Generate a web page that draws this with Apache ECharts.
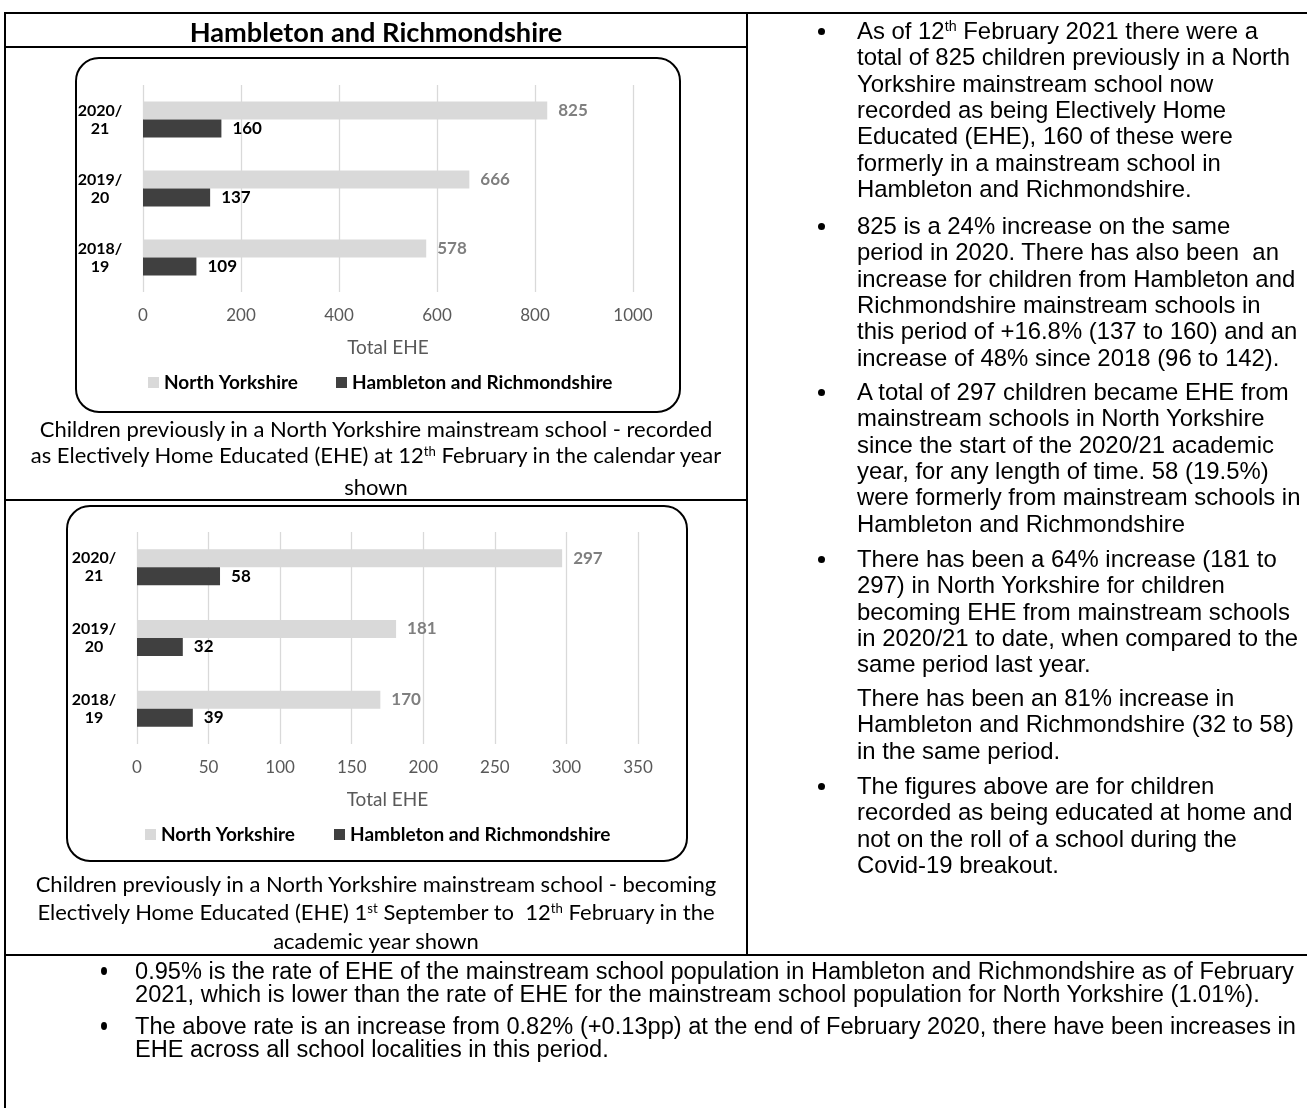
<!DOCTYPE html>
<html>
<head>
<meta charset="utf-8">
<script src="https://cdn.jsdelivr.net/npm/echarts@6/dist/echarts.min.js"></script>
<style>
  html, body { margin:0; padding:0; background:#fff; }
  #page { position:relative; width:1307px; height:1108px; overflow:hidden; background:#fff; }
  #chart { position:absolute; left:0; top:0; width:1307px; height:1108px; }
  .ln { position:absolute; background:#000; }
  .box { position:absolute; border:2.5px solid #000; border-radius:24px; box-sizing:border-box; }
  .t { position:absolute; white-space:nowrap; color:#000; }
  .cal { font-family: Lato, "Open Sans", sans-serif; }
  .ar { font-family: "Liberation Sans", Arial, sans-serif; font-size:23.9px; }
  .nar { font-family: "Liberation Sans", Arial, sans-serif; font-size:23px; transform-origin:0 50%; }
  .dot { position:absolute; width:7px; height:7px; border-radius:50%; background:#000; }
  sup { font-size:0.6em; line-height:0; vertical-align:0.55em; }
</style>
</head>
<body>
<div id="page">
  <div id="chart"></div>
</div>
<script>
// ---- data ----
const categories = ['2018/19', '2019/20', '2020/21'];
const seriesNames = ['North Yorkshire', 'Hambleton and Richmondshire'];
const nyRecorded = [578, 666, 825];
const hrRecorded = [109, 137, 160];
const nyBecoming = [170, 181, 297];
const hrBecoming = [39, 32, 58];
const axisName = 'Total EHE';
const title = 'Hambleton and Richmondshire';
const caption1 = ['Children previously in a North Yorkshire mainstream school - recorded',
  'as Electively Home Educated (EHE) at 12<sup>th</sup> February in the calendar year', 'shown'];
const caption2 = ['Children previously in a North Yorkshire mainstream school - becoming',
  'Electively Home Educated (EHE) 1<sup>st</sup> September to &nbsp;12<sup>th</sup> February in the', 'academic year shown'];
const rightParas = [
  {bullet:true, lines:['As of 12<sup>th</sup> February 2021 there were a','total of 825 children previously in a North','Yorkshire mainstream school now','recorded as being Electively Home','Educated (EHE), 160 of these were','formerly in a mainstream school in','Hambleton and Richmondshire.']},
  {bullet:true, lines:['825 is a 24% increase on the same','period in 2020. There has also been &nbsp;an','increase for children from Hambleton and','Richmondshire mainstream schools in','this period of +16.8% (137 to 160) and an','increase of 48% since 2018 (96 to 142).']},
  {bullet:true, lines:['A total of 297 children became EHE from','mainstream schools in North Yorkshire','since the start of the 2020/21 academic','year, for any length of time. 58 (19.5%)','were formerly from mainstream schools in','Hambleton and Richmondshire']},
  {bullet:true, lines:['There has been a 64% increase (181 to','297) in North Yorkshire for children','becoming EHE from mainstream schools','in 2020/21 to date, when compared to the','same period last year.']},
  {bullet:false, lines:['There has been an 81% increase in','Hambleton and Richmondshire (32 to 58)','in the same period.']},
  {bullet:true, lines:['The figures above are for children','recorded as being educated at home and','not on the roll of a school during the','Covid-19 breakout.']}
];
const bottomParas = [
  ['0.95% is the rate of EHE of the mainstream school population in Hambleton and Richmondshire as of February',
   '2021, which is lower than the rate of EHE for the mainstream school population for North Yorkshire (1.01%).'],
  ['The above rate is an increase from 0.82% (+0.13pp) at the end of February 2020, there have been increases in',
   'EHE across all school localities in this period.']
];

// ---- page furniture ----
const page = document.getElementById('page');
function el(cls, css, html) {
  const d = document.createElement('div');
  d.className = cls; Object.assign(d.style, css);
  if (html !== undefined) d.innerHTML = html;
  page.appendChild(d); return d;
}
function hline(x1, x2, y, w) { el('ln', {left:x1+'px', top:(y - w/2)+'px', width:(x2-x1)+'px', height:w+'px'}); }
function vline(x, y1, y2, w) { el('ln', {left:(x - w/2)+'px', top:y1+'px', width:w+'px', height:(y2-y1)+'px'}); }
function textLine(cls, html, x, yc, lh, css) {
  return el('t ' + cls, Object.assign({left:x+'px', top:(yc - lh/2)+'px', height:lh+'px', lineHeight:lh+'px'}, css||{}), html);
}
function centerLine(cls, html, xl, w, yc, lh, css) {
  return textLine(cls, html, xl, yc, lh, Object.assign({width:w+'px', textAlign:'center'}, css||{}));
}

hline(4, 1307, 13, 2);
vline(5, 12, 1108, 2);
vline(747, 12, 956, 2);
hline(5, 747, 47, 2);
hline(5, 747, 500, 2);
hline(4, 1307, 955, 2);

el('box', {left:'75px', top:'57px', width:'606px', height:'356px'});
el('box', {left:'66px', top:'505px', width:'622px', height:'357px'});

centerLine('cal', title, 5, 742, 32, 32, {fontWeight:'bold', fontSize:'27.2px'});
const cap1Y = [429, 455, 487], cap2Y = [884, 912, 941];
caption1.forEach((s, i) => centerLine('cal', s, 5, 742, cap1Y[i], 28, {fontSize:'22px'}));
caption2.forEach((s, i) => centerLine('cal', s, 5, 742, cap2Y[i], 28, {fontSize:'22px'}));

const paraY = [31, 226, 392, 559, 698, 786];
const rLH = 26.4;
rightParas.forEach((p, i) => {
  if (p.bullet) el('dot', {left:'818px', top:(paraY[i] - 3)+'px'});
  p.lines.forEach((s, j) => textLine('ar', s, 857, paraY[i] + j * rLH, rLH));
});

const botY = [971, 1026];
const botLines = [];
bottomParas.forEach((p, i) => {
  el('dot', {left:'101px', top:(botY[i] - 4)+'px', width:'6px', height:'8px'});
  p.forEach((s, j) => botLines.push(textLine('nar', s, 135, botY[i] + j * 23, 23)));
});
// condense the bottom text so the first line spans the same width as the reference
const natural = botLines[0].scrollWidth;
const sx = (1294 - 135) / natural;
botLines.forEach(d => { d.style.transform = 'scaleX(' + sx.toFixed(4) + ')'; });

// ---- chart ----
const FONT = 'Lato';
const chart = echarts.init(document.getElementById('chart'), null, {renderer:'canvas'});
function xAx(grid, max, interval, nameGap) {
  return {
    type:'value', gridIndex:grid, min:0, max:max, interval:interval,
    axisLine:{show:false}, axisTick:{show:false},
    splitLine:{show:true, lineStyle:{color:'#d9d9d9', width:1.3}},
    axisLabel:{color:'#595959', fontSize:17, fontFamily:FONT, margin:15, formatter: v => String(v)},
    name:axisName, nameLocation:'middle', nameGap:nameGap,
    nameTextStyle:{color:'#595959', fontSize:19, fontFamily:FONT}
  };
}
function yAx(grid) {
  return {
    type:'category', gridIndex:grid, data:categories,
    axisLine:{show:false}, axisTick:{show:false}, splitLine:{show:false},
    axisLabel:{color:'#000', fontWeight:'bold', fontSize:16, fontFamily:FONT, lineHeight:18,
      align:'center', margin:43, formatter: v => v.replace('/', '/\n')}
  };
}
function barSeries(name, data, idx, color, labelColor) {
  return {
    type:'bar', name:name, data:data, xAxisIndex:idx, yAxisIndex:idx,
    barWidth:18, barGap:'0%', itemStyle:{color:color},
    label:{show:true, position:'right', distance:11, color:labelColor, fontWeight:'bold', fontSize:17, fontFamily:FONT},
    emphasis:{disabled:true}
  };
}
function leg(name, left, top) {
  return {
    data:[name], left:left, top:top, padding:0, icon:'rect', itemWidth:11, itemHeight:11, itemGap:5,
    selectedMode:false, textStyle:{color:'#000', fontWeight:'bold', fontSize:19, fontFamily:FONT}
  };
}
chart.setOption({
  animation:false,
  grid:[
    {left:143, top:85, width:490, height:207},
    {left:137, top:532, width:501, height:212}
  ],
  xAxis:[xAx(0, 1000, 200, 46), xAx(1, 350, 50, 46)],
  yAxis:[yAx(0), yAx(1)],
  legend:[
    leg(seriesNames[0], 148, 373), leg(seriesNames[1], 336, 373),
    leg(seriesNames[0], 145, 825), leg(seriesNames[1], 334, 825)
  ],
  series:[
    barSeries(seriesNames[0], nyRecorded, 0, '#d9d9d9', '#7f7f7f'),
    barSeries(seriesNames[1], hrRecorded, 0, '#404040', '#000'),
    barSeries(seriesNames[0], nyBecoming, 1, '#d9d9d9', '#7f7f7f'),
    barSeries(seriesNames[1], hrBecoming, 1, '#404040', '#000')
  ]
});
</script>
</body>
</html>
